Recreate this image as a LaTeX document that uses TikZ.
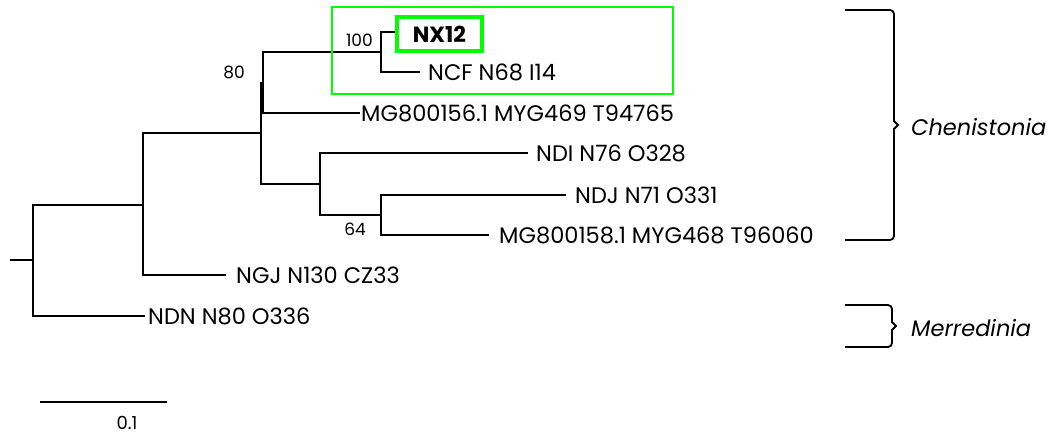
\documentclass[tikz,border=0pt]{standalone}
\usepackage{fontspec}
\setmainfont{Poppins}
\usepackage{tikz}
\usetikzlibrary{positioning}
\tikzstyle{branch} = [line width=1.3pt]
\tikzstyle{taxon} = [anchor=west, inner sep=0pt, font=\fontsize{22.5}{26}\selectfont]
\tikzstyle{support} = [anchor=east, inner sep=0pt, font=\fontsize{17}{20}\selectfont]
\tikzstyle{highlight} = [draw=green, line width=2pt]
\tikzstyle{clade} = [line width=1.8pt, rounded corners=4pt]
\tikzstyle{genus} = [anchor=west, inner sep=0pt, font=\fontsize{22.5}{26}\selectfont\itshape]

\begin{document}
\begin{tikzpicture}[x=1pt, y=-1pt, node distance=4pt]
\useasboundingbox (0,0) rectangle (1058,437);

% internal nodes (x, middle of the vertical bar)
\coordinate (stub) at (10,260);
\coordinate (n0) at (33,260);
\coordinate (nA) at (143,205);
\coordinate (nB) at (261,133);
\coordinate (n80) at (263,83);
\coordinate (n100) at (381,52);
\coordinate (nC) at (320,184);
\coordinate (nD) at (381,215);

% leaves
\coordinate (tNX) at (399,32);
\coordinate (tNCF) at (420,72);
\coordinate (tMG6) at (360,113);
\coordinate (tNDI) at (528,153);
\coordinate (tNDJ) at (566,195);
\coordinate (tMG8) at (489,235);
\coordinate (tNGJ) at (226,275);
\coordinate (tNDN) at (145,316);

% branches
\draw [branch] (stub) -- (n0);
\draw [branch] (n0) |- (nA);
\draw [branch] (n0) |- (tNDN);
\draw [branch] (nA) |- (nB);
\draw [branch] (nA) |- (tNGJ);
\draw [branch] (nB) |- (n80);
\draw [branch] (nB) |- (nC);
\draw [branch] (n80) |- (n100);
\draw [branch] (n80) |- (tMG6);
\draw [branch] (n100) |- (tNX);
\draw [branch] (n100) |- (tNCF);
\draw [branch] (nC) |- (tNDI);
\draw [branch] (nC) |- (nD);
\draw [branch] (nD) |- (tNDJ);
\draw [branch] (nD) |- (tMG8);

% taxon labels
\node (lNX) [anchor=west, draw=green, line width=4pt, minimum width=85pt, minimum height=34pt, inner sep=0pt, font=\fontsize{22}{26}\selectfont\bfseries] at (395,34) {NX12\hspace{8pt}};
\node (lNCF) [taxon, right=8pt of tNCF] {NCF N68 I14};
\node (lMG6) [taxon, right=1pt of tMG6] {MG800156.1 MYG469 T94765};
\node (lNDI) [taxon, right=8pt of tNDI] {NDI N76 O328};
\node (lNDJ) [taxon, right=9pt of tNDJ] {NDJ N71 O331};
\node (lMG8) [taxon, right=10pt of tMG8] {MG800158.1 MYG468 T96060};
\node (lNGJ) [taxon, right=10pt of tNGJ] {NGJ N130 CZ33};
\node (lNDN) [taxon, right=3pt of tNDN] {NDN N80 O336};

% support values
\node (s100) [support] at (373,40) {100};
\node (s80) [support] at (245,72) {80};
\node (s64) [support] at (366,229) {64};

% highlight box
\draw [highlight] (332,7) rectangle (673,94);

% clades
\draw [clade] (845,10) -| (894,122);
\draw [clade] (845,240) -| (894,128);
\draw [line width=1.8pt] (894,121) -- (898,125) -- (894,129);
\node (gChen) [genus] at (911,127) {Chenistonia};
\draw [clade] (845,305) -| (892,323);
\draw [clade] (845,347) -| (892,329);
\draw [line width=1.8pt] (892,322) -- (896,326) -- (892,330);
\node (gMerr) [genus] at (911,328) {Merredinia};

% scale bar
\coordinate (sb1) at (40,402);
\coordinate (sb2) at (167,402);
\draw [line width=2pt] (sb1) -- (sb2);
\node (sbl) [inner sep=0pt, font=\fontsize{18}{21}\selectfont] at (127,423) {0.1};

\end{tikzpicture}
\end{document}
